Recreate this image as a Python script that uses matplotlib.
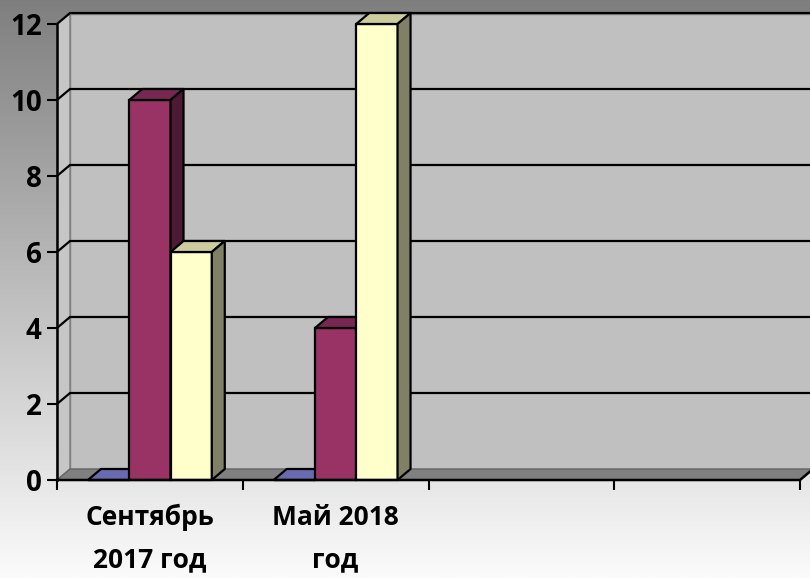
import numpy as np
import matplotlib
matplotlib.use("Agg")
import matplotlib.pyplot as plt
from matplotlib.patches import Polygon

# ---- data ----
categories = ["Сентябрь\n2017 год", "Май 2018\nгод", "", ""]
series1 = [0, 0, np.nan, np.nan]      # blue (zero values)
series2 = [10, 4, np.nan, np.nan]     # maroon
series3 = [6, 12, np.nan, np.nan]     # light yellow
yticks = [0, 2, 4, 6, 8, 10, 12]

front_colors = ["#7777c4", "#993366", "#ffffcc"]
top_colors = ["#6a6ab0", "#772852", "#cccc9f"]
side_colors = ["#4c4c80", "#4d1a33", "#808066"]

W, H = 810, 578
fig = plt.figure(figsize=(W / 100, H / 100), dpi=100)

# background gradient
bg = fig.add_axes([0, 0, 1, 1])
grad = np.linspace(0x7f, 0xfb, 256)[:, None] / 255.0
bg.imshow(np.repeat(grad[:, :, None], 3, axis=2), aspect="auto", extent=[0, 1, 0, 1], origin="upper")
bg.set_axis_off()

x0_px, x1_px, y0_px, y1_px = 57, 800, 480, 24
ax = fig.add_axes([x0_px / W, (H - y0_px) / H, (x1_px - x0_px) / W, (y0_px - y1_px) / H])
ax.set_xlim(0, len(categories))
ax.set_ylim(0, 12)
ax.patch.set_alpha(0)
for s in ax.spines.values():
    s.set_visible(False)

ux = (x1_px - x0_px) / len(categories)
uy = (y0_px - y1_px) / 12.0
DX = 13 / ux
DY = 11 / uy
xmax = len(categories)
wall_top = 12 + 10 / uy

# left side wall
ax.add_patch(Polygon([(0, 0), (DX, DY), (DX, wall_top), (0, 12 + 1 / uy)],
                     closed=True, facecolor="#c6c6c6", edgecolor="#808080", lw=1, clip_on=False, zorder=1))
# back wall
ax.add_patch(Polygon([(DX, DY), (xmax + DX, DY), (xmax + DX, wall_top), (DX, wall_top)],
                     closed=True, facecolor="#c0c0c0", edgecolor="#808080", lw=1, clip_on=False, zorder=1))
# floor
ax.add_patch(Polygon([(0, 0), (xmax, 0), (xmax + DX, DY), (DX, DY)],
                     closed=True, facecolor="#808080", edgecolor="#666666", lw=1, clip_on=False, zorder=1.5))

# gridlines
for v in yticks[1:]:
    ax.plot([0, DX, xmax + DX], [v, v + DY, v + DY], color="black", lw=1.6, clip_on=False, zorder=2,
            solid_capstyle="butt")

# axes lines
ax.plot([0, 0], [0, 12], color="black", lw=1.8, clip_on=False, zorder=3)
ax.plot([0, xmax, xmax + DX], [0, 0, DY], color="black", lw=1.8, clip_on=False, zorder=20)

# bars
nser = 3
w = 1.0 / (nser + 1.5)
series = [series1, series2, series3]
z = 5
for i in range(len(categories)):
    for j, vals in enumerate(series):
        v = vals[i]
        if np.isnan(v):
            continue
        left = i + 0.75 * w + j * w
        right = left + w
        ax.bar(left, v, width=w, align="edge", color=front_colors[j], edgecolor="black",
               lw=1.6, zorder=z, clip_on=False)
        ax.add_patch(Polygon([(left, v), (right, v), (right + DX, v + DY), (left + DX, v + DY)],
                             closed=True, facecolor=top_colors[j], edgecolor="black", lw=1.6,
                             zorder=z, clip_on=False, joinstyle="round"))
        if v > 0:
            ax.add_patch(Polygon([(right, 0), (right + DX, DY), (right + DX, v + DY), (right, v)],
                                 closed=True, facecolor=side_colors[j], edgecolor="black", lw=1.6,
                                 zorder=z, clip_on=False, joinstyle="round"))
        z += 1

font = ["Open Sans", "DejaVu Sans"]
ax.set_yticks(yticks)
ax.set_yticklabels([str(t) for t in yticks], fontsize=20, fontweight="bold", family=font)
ax.tick_params(axis="y", length=7, width=1.5, pad=4, colors="black")

ax.set_xticks(range(len(categories) + 1))
ax.set_xticklabels([])
ax.tick_params(axis="x", which="major", length=7, width=1.5)
ax.set_xticks([i + 0.5 for i in range(len(categories))], minor=True)
ax.set_xticklabels(categories, minor=True, fontsize=19, fontweight="bold", family=font, linespacing=1.75)
ax.tick_params(axis="x", which="minor", length=0, pad=17)

fig.savefig("out.png", dpi=100)
